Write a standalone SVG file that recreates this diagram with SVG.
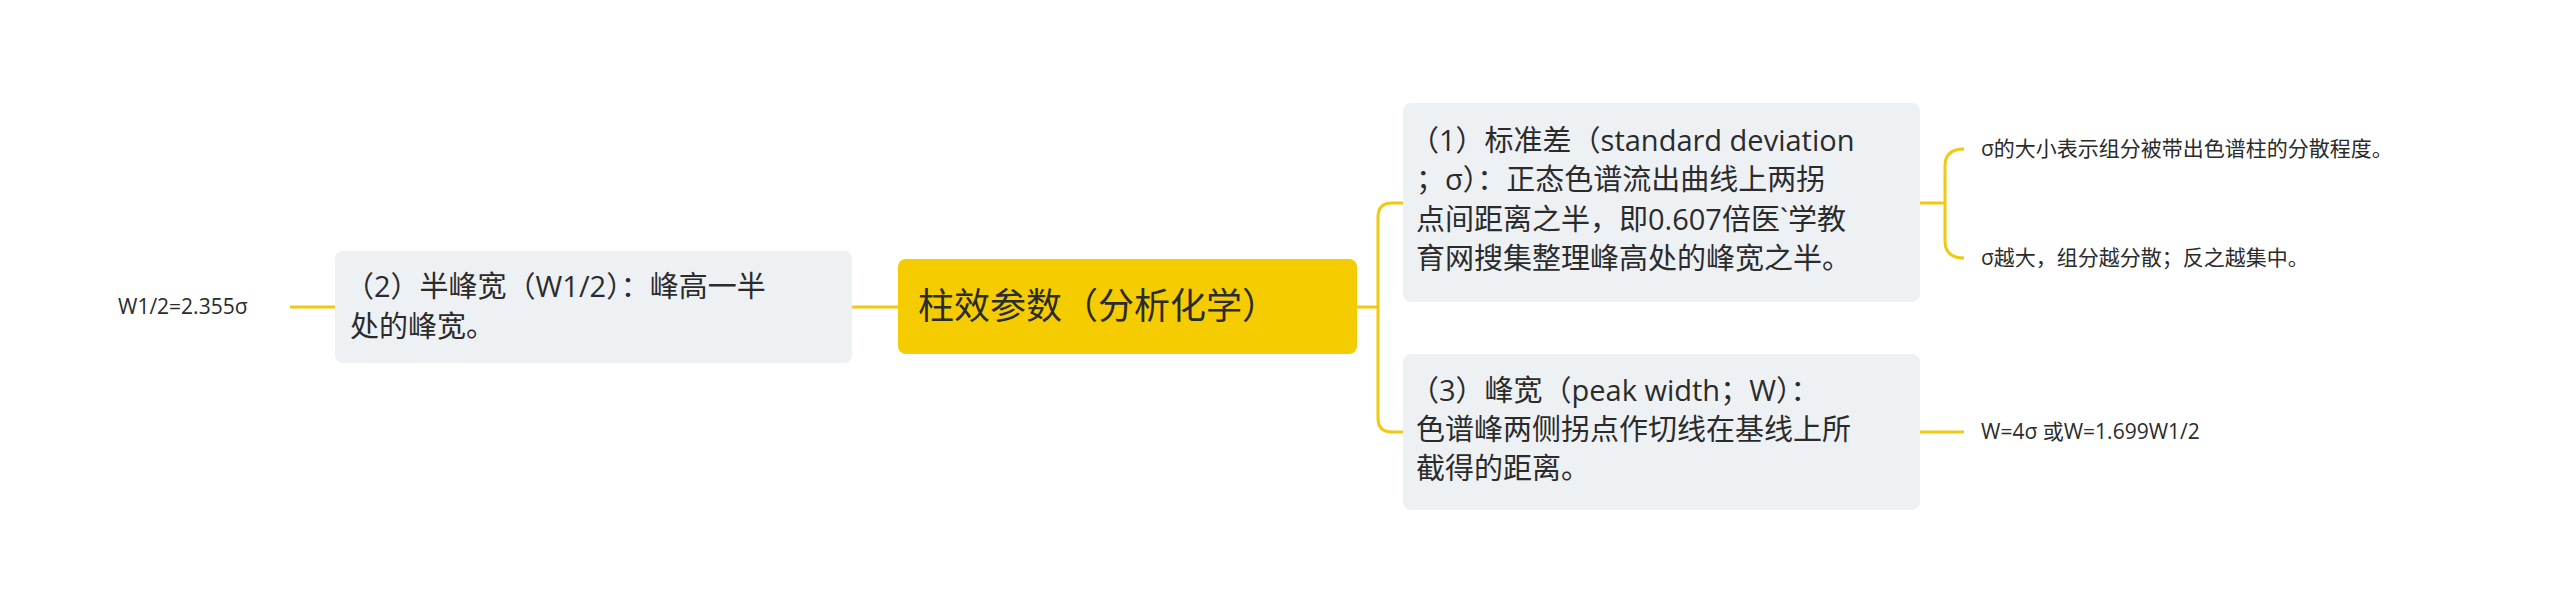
<svg xmlns="http://www.w3.org/2000/svg" width="2560" height="613" viewBox="0 0 2560 613">
<style>
.t{font-family:"Open Sans","Noto Sans CJK SC",sans-serif;fill:#2b2b2b}
.n{font-size:29px}
.l{font-size:21px}
.box{fill:#eef1f4}
.c{fill:none;stroke:#f2c811;stroke-width:3}
</style>
<rect width="2560" height="613" fill="#fff"/>
<g id="connectors">
<path class="c" d="M898 307H852"/>
<path class="c" d="M335 307H290"/>
<path class="c" d="M1357 307H1378M1403 203H1392Q1378 203 1378 217V418Q1378 432 1392 432H1403"/>
<path class="c" d="M1920 203H1945M1964 149Q1945 149 1945 166V241Q1945 258 1964 258"/>
<path class="c" d="M1920 432H1964"/>
</g>
<g id="root"><rect x="898" y="259" width="459" height="95" rx="8" fill="#f5cc00"/>
<text class="t" x="918" y="319" font-size="36">柱效参数（分析化学）</text></g>
<g id="n2"><rect class="box" x="335" y="251" width="517" height="112" rx="8"/>
<text class="t n"><tspan x="345" y="297">（2）半峰宽（W1/2）：峰高一半</tspan><tspan x="350" y="337">处的峰宽。</tspan></text></g>
<g id="leaf2"><text class="t l" x="118" y="314">W1/2=2.355σ</text></g>
<g id="n1"><rect class="box" x="1403" y="103" width="517" height="199" rx="8"/>
<text class="t n"><tspan x="1410" y="151">（1）标准差（standard deviation</tspan><tspan x="1416" y="190">；σ）：正态色谱流出曲线上两拐</tspan><tspan x="1416" y="230">点间距离之半，即0.607倍医`学教</tspan><tspan x="1416" y="269">育网搜集整理峰高处的峰宽之半。</tspan></text></g>
<g id="leaf1a"><text class="t l" x="1981" y="156">σ的大小表示组分被带出色谱柱的分散程度。</text></g>
<g id="leaf1b"><text class="t l" x="1981" y="265">σ越大，组分越分散；反之越集中。</text></g>
<g id="n3"><rect class="box" x="1403" y="354" width="517" height="156" rx="8"/>
<text class="t n"><tspan x="1410" y="401">（3）峰宽（peak width；W）：</tspan><tspan x="1416" y="440">色谱峰两侧拐点作切线在基线上所</tspan><tspan x="1416" y="479">截得的距离。</tspan></text></g>
<g id="leaf3"><text class="t l" x="1981" y="439">W=4σ 或W=1.699W1/2</text></g>
</svg>
